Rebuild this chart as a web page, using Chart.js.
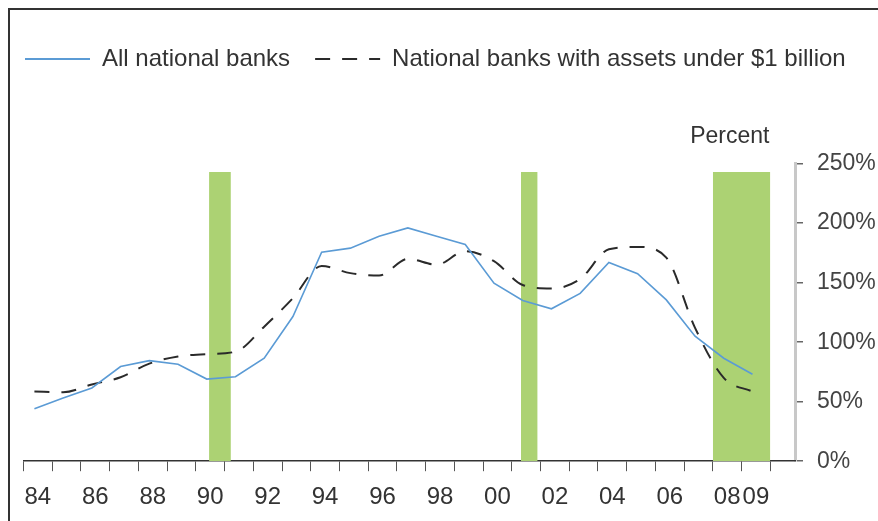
<!DOCTYPE html>
<html><head><meta charset="utf-8">
<script src="https://cdn.jsdelivr.net/npm/chart.js@4.4.1/dist/chart.umd.min.js"></script>
<style>
html,body{margin:0;padding:0;background:#fff;overflow:hidden;width:878px;height:521px;}
#frame{position:absolute;left:8px;top:8px;width:868px;height:511px;border-left:2px solid #333;border-top:2px solid #333;}
#wrap{position:absolute;left:0;top:0;width:878px;height:521px;}
</style></head><body>
<div id="frame"></div>
<div id="wrap"><canvas id="c" width="878" height="521"></canvas></div>
<script>
const years = [1984,1985,1986,1987,1988,1989,1990,1991,1992,1993,1994,1995,1996,1997,1998,1999,2000,2001,2002,2003,2004,2005,2006,2007,2008,2009];
const allBanks = [44,53,61.5,79.5,84.5,81.5,69,71,86.5,121.5,175.5,179,189,196,189,182,149.5,135,128,141,167,157.5,135.5,105,86.5,73];
const smallBanks = [58.5,58,64.5,70.5,82,88,90,92,113,137,164,158,156,170,165,176.5,168,148,145,153,178,180,171,112,70,58.5];
const recessionStart = [1990.46, 2001.32, 2008.0];
const recessionEnd = [1991.22, 2001.9, 2010.0];
const recessionTop = 243;
const xLabelYears = [1984,1986,1988,1990,1992,1994,1996,1998,2000,2002,2004,2006,2008,2009];
const xLabels = ['84','86','88','90','92','94','96','98','00','02','04','06','08','09'];
const yTicks = [0,50,100,150,200,250];
const seriesNames = ['All national banks','National banks with assets under $1 billion'];

const POINT_OFFSET = 0.38;
const tickYears = years.concat([2010]);
const toPts = arr => years.map((y,i)=>({x:y+POINT_OFFSET, y:arr[i]}));
const recPts = [];
recessionStart.forEach((s,i)=>{
  recPts.push({x:s,y:recessionTop},{x:recessionEnd[i],y:recessionTop},{x:recessionEnd[i]+0.001,y:null});
});

Chart.defaults.font.family = "'Liberation Sans', Arial, Helvetica, sans-serif";

new Chart(document.getElementById('c'), {
  type:'line',
  data:{datasets:[
    {label:seriesNames[0], data:toPts(allBanks), xAxisID:'x', yAxisID:'y', borderColor:'#5b9bd5', backgroundColor:'transparent', borderWidth:1.6, pointRadius:0, tension:0, fill:false},
    {label:seriesNames[1], data:toPts(smallBanks), xAxisID:'x', yAxisID:'y', borderColor:'#2a2a2a', backgroundColor:'transparent', borderWidth:2, borderDash:[15,12], pointRadius:0, cubicInterpolationMode:'monotone', fill:false},
    {label:'Recession', data:recPts, xAxisID:'x', yAxisID:'y', borderColor:'transparent', backgroundColor:'#acd273', borderWidth:0, pointRadius:0, tension:0, fill:'origin', spanGaps:false}
  ]},
  options:{
    responsive:false, animation:false, devicePixelRatio:1,
    layout:{padding:{top:22,left:0,right:0,bottom:5}},
    plugins:{
      legend:{display:true, position:'top', align:'start',
        labels:{usePointStyle:true, pointStyle:'line', pointStyleWidth:65, boxWidth:65, padding:25, color:'#333', font:{size:24},
          filter:item=>item.datasetIndex<2,
          generateLabels(chart){
            const items = Chart.defaults.plugins.legend.labels.generateLabels(chart);
            items.forEach(it=>{
              const ds = chart.data.datasets[it.datasetIndex];
              it.lineDash = ds.borderDash || [];
              it.lineWidth = 2;
              it.strokeStyle = ds.borderColor;
              it.fillStyle = 'transparent';
              it.pointStyle = 'line';
            });
            return items;
          }}},
      title:{display:true, text:'Percent    ', align:'end', position:'top', fullSize:false, weight:500, color:'#333', font:{size:23, weight:'normal'}, padding:{top:42,bottom:13}},
      tooltip:{enabled:false}
    },
    scales:{
      yl:{type:'linear', position:'left', display:true, grid:{display:false}, border:{display:false}, ticks:{display:false}, afterFit(s){s.width=23.5;}},
      y:{type:'linear', position:'right', min:0, max:250,
        afterBuildTicks(s){s.ticks = yTicks.map(v=>({value:v}));},
        ticks:{callback:v=>v+'%', color:'#444', font:{size:23}, padding:14},
        grid:{drawOnChartArea:false, tickLength:8, color:'#666', lineWidth:1.5},
        border:{color:'#c8c8c8', width:3},
        afterFit(s){s.width=83;}},
      x:{type:'linear', position:'bottom', min:1984, max:2010.86, weight:0,
        afterBuildTicks(s){s.ticks = tickYears.map(v=>({value:v}));},
        ticks:{display:false},
        grid:{drawOnChartArea:false, tickLength:10, color:'#555', lineWidth:1},
        border:{color:'#333', width:1.5}},
      x2:{type:'linear', position:'bottom', min:1984, max:2010.86, weight:1,
        afterBuildTicks(s){s.ticks = xLabelYears.map(v=>({value:v+0.5}));},
        ticks:{callback:(v,i)=>xLabels[i], autoSkip:false, maxRotation:0, minRotation:0, color:'#333', font:{size:24}, padding:4},
        grid:{display:false}, border:{display:false}}
    }
  }
});
</script>
</body></html>
